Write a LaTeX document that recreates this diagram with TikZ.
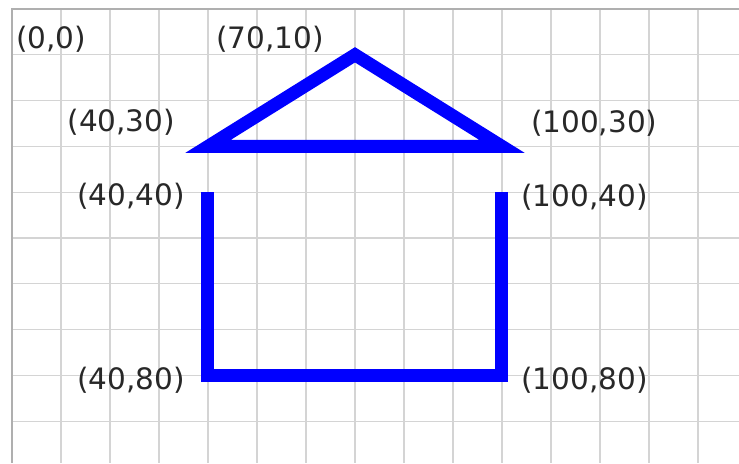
\documentclass[tikz,border=0pt]{standalone}
\usepackage{fontspec}
\setmainfont{DejaVu Sans}
\usetikzlibrary{positioning}
\definecolor{gridgray}{RGB}{212,212,212}
\definecolor{edgegray}{RGB}{175,175,175}
\definecolor{labelgray}{RGB}{40,40,40}

\begin{document}
\begin{tikzpicture}[x=4.9pt, y=-4.58pt,
    lbl/.style={font=\fontsize{29.5}{34}\selectfont, text=labelgray, inner sep=0pt},
    wall/.style={blue, line width=13pt, miter limit=10}]
  \useasboundingbox (-2.449,-1.965) rectangle (148.37,99.13);
  %% grid
  \foreach \x in {10,20,...,140}
    \draw[gridgray, line width=1.2pt] (\x,0) -- (\x,99.13);
  \foreach \y in {10,20,...,90}
    \draw[gridgray, line width=1.2pt] (0,\y) -- (148.37,\y);
  \draw[edgegray, line width=1.4pt] (0,99.13) -- (0,0) -- (148.37,0);
  %% corner points
  \coordinate (p7010)  at (70,10);
  \coordinate (p4030)  at (40,30);
  \coordinate (p10030) at (100,30);
  \coordinate (p4040)  at (40,40);
  \coordinate (p10040) at (100,40);
  \coordinate (p4080)  at (40,80);
  \coordinate (p10080) at (100,80);
  %% roof
  \draw[wall] (p4030) -- (p7010) -- (p10030) -- cycle;
  %% walls
  \draw[wall] (p4040) -- (p4080) -- (p10080) -- (p10040);
  %% labels
  \node[lbl, anchor=west] (t00)    at (0.8,6.55)   {(0,0)};
  \node[lbl]              (t7010)  at (52.65,6.55) {(70,10)};
  \node[lbl, anchor=east] (t4030)  at (33.3,24.8)  {(40,30)};
  \node[lbl, anchor=west] (t10030) at (105.9,24.9) {(100,30)};
  \node[lbl, anchor=east] (t4040)  at (35.3,40.8)  {(40,40)};
  \node[lbl, anchor=west] (t10040) at (103.9,41.0) {(100,40)};
  \node[lbl, anchor=east] (t4080)  at (35.3,81.0)  {(40,80)};
  \node[lbl, anchor=west] (t10080) at (103.9,81.0) {(100,80)};
\end{tikzpicture}
\end{document}
